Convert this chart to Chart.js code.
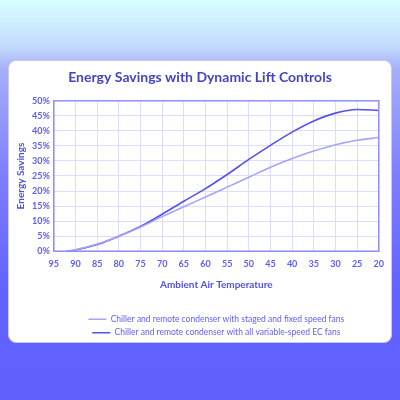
<!DOCTYPE html>
<html>
<head>
<meta charset="utf-8">
<script src="https://cdn.jsdelivr.net/npm/chart.js@4.4.0/dist/chart.umd.min.js"></script>
<style>
  html, body { margin: 0; padding: 0; width: 400px; height: 400px; overflow: hidden; }
  body {
    background: linear-gradient(to bottom, #d6ffff 0px, #c4dcfc 45px, #a6aef8 70px, #7c7cff 180px, #6262ff 290px, #6060ff 400px);
  }
  #card {
    position: absolute; left: 8px; top: 60px; width: 384px; height: 283px;
    background: #ffffff; border-radius: 8px; border: 1px solid #c4c8fc;
    box-sizing: border-box;
  }
  #wrap { position: absolute; left: 0; top: 0; width: 382px; height: 286px; }
</style>
</head>
<body>
<div id="card"><div id="wrap"><canvas id="c"></canvas></div></div>
<script>
const temperatures = [92, 90, 85, 80, 75, 70, 65, 60, 55, 50, 45, 40, 35, 30, 25, 20];
const stagedFixedFans = [0, 0.5, 2.4, 5.0, 8.0, 11.5, 14.8, 18.0, 21.3, 24.6, 27.9, 30.8, 33.3, 35.4, 36.9, 37.8];
const variableSpeedEC = [0, 0.4, 2.2, 5.0, 8.2, 12.3, 16.6, 20.8, 25.5, 30.5, 35.2, 39.6, 43.3, 45.9, 47.1, 46.8];
const seriesLabels = [
  "Chiller and remote condenser with staged and fixed speed fans",
  "Chiller and remote condenser with all variable-speed EC fans"
];
const titleText = "Energy Savings with Dynamic Lift Controls";
const xTitle = "Ambient Air Temperature";
const yTitle = "Energy Savings";

const toPts = arr => temperatures.map((t, i) => ({ x: t, y: arr[i] }));

const frame = {
  id: 'frame',
  afterDatasetsDraw(chart) {
    const a = chart.chartArea, ctx = chart.ctx;
    ctx.save();
    ctx.strokeStyle = '#8e8eff';
    ctx.lineWidth = 1.5;
    ctx.strokeRect(a.left, a.top, a.right - a.left, a.bottom - a.top);
    ctx.restore();
  }
};

const tickColor = '#5c5cf4';
new Chart(document.getElementById('c'), {
  type: 'line',
  data: {
    datasets: [
      { label: seriesLabels[0], data: toPts(stagedFixedFans), borderColor: '#a4a4fa', backgroundColor: '#a4a4fa', borderWidth: 1.6, pointRadius: 0, cubicInterpolationMode: 'monotone', fill: false },
      { label: seriesLabels[1], data: toPts(variableSpeedEC), borderColor: '#5252ec', backgroundColor: '#5252ec', borderWidth: 1.6, pointRadius: 0, cubicInterpolationMode: 'monotone', fill: false }
    ]
  },
  options: {
    responsive: true,
    maintainAspectRatio: false,
    animation: false,
    layout: { padding: { left: 6, right: 6, top: 2, bottom: 0 } },
    plugins: {
      title: { display: true, text: titleText, color: '#4444c4', font: { family: 'Lato', size: 14, weight: 'bold' }, padding: { top: 6, bottom: 15 } },
      legend: {
        position: 'bottom',
        fullSize: false,
        labels: { usePointStyle: true, pointStyle: 'line', pointStyleWidth: 18, color: '#6060f0', font: { family: 'Lato', size: 8.5 }, padding: 5, boxHeight: 1 }
      },
      tooltip: { enabled: false }
    },
    scales: {
      x: {
        type: 'linear', reverse: true, min: 20, max: 95,
        ticks: { stepSize: 5, color: tickColor, font: { family: 'Lato', size: 9, weight: 'bold' }, padding: 7 },
        grid: { color: '#dcdcff', drawTicks: false },
        border: { color: '#8e8eff' },
        title: { display: true, text: xTitle, color: '#5050e8', font: { family: 'Lato', size: 10, weight: 'bold' }, padding: { top: 3, bottom: 19 } }
      },
      y: {
        min: 0, max: 50,
        ticks: { stepSize: 5, color: tickColor, font: { family: 'Lato', size: 9, weight: 'bold' }, padding: 4, callback: v => v + '%' },
        grid: { color: '#dcdcff', drawTicks: false },
        border: { color: '#8e8eff' },
        title: { display: true, text: yTitle, color: '#5050e8', font: { family: 'Lato', size: 10, weight: 'bold' }, padding: { top: 0, bottom: 1 } }
      }
    }
  },
  plugins: [frame]
});
</script>
</body>
</html>
